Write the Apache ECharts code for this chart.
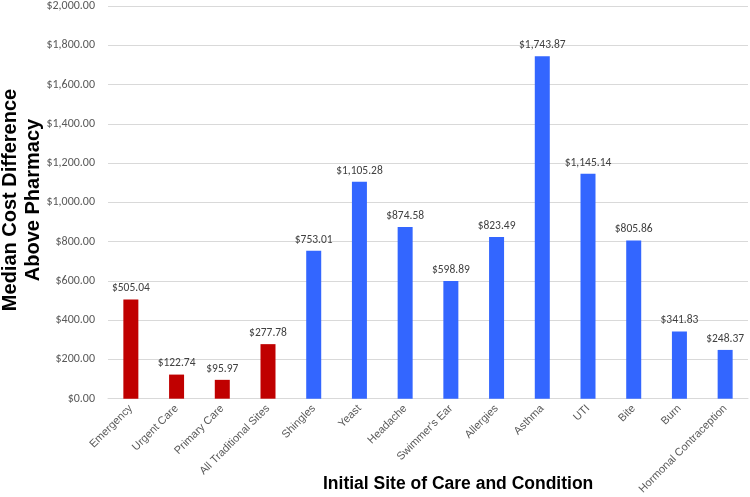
<!DOCTYPE html>
<html><head><meta charset="utf-8">
<script src="https://cdn.jsdelivr.net/npm/echarts@6/dist/echarts.min.js"></script>
<style>html,body{margin:0;padding:0;background:#fff}#c{width:750px;height:497px}</style>
</head><body><div id="c"></div>
<script>
const categories = ["Emergency","Urgent Care","Primary Care","All Traditional Sites","Shingles","Yeast","Headache","Swimmer's Ear","Allergies","Asthma","UTI","Bite","Burn","Hormonal Contraception"];
const values = [505.04,122.74,95.97,277.78,753.01,1105.28,874.58,598.89,823.49,1743.87,1145.14,805.86,341.83,248.37];
const groups = ["site","site","site","site","cond","cond","cond","cond","cond","cond","cond","cond","cond","cond"];
const colors = {site:"#C00000", cond:"#3366FF"};
function money(v){return "$"+v.toLocaleString("en-US",{minimumFractionDigits:2,maximumFractionDigits:2});}
const chart = echarts.init(document.getElementById('c'));
chart.setOption({
  animation:false,
  grid:{left:108,right:2,top:5,bottom:98},
  xAxis:{type:'category',data:categories,
    axisLine:{lineStyle:{color:'#d9d9d9'}},axisTick:{show:false},
    axisLabel:{rotate:45,interval:0,color:'#595959',fontSize:11,fontFamily:'Arial, Liberation Sans',margin:8}},
  yAxis:{type:'value',min:0,max:2000,interval:200,
    axisLine:{show:false},axisTick:{show:false},
    splitLine:{lineStyle:{color:'#d9d9d9'}},
    axisLabel:{formatter:v=>money(v),color:'#595959',fontSize:12,fontFamily:'Calibri, Carlito, Liberation Sans',margin:13}},
  graphic:[
    {type:'text',left:323,top:475,style:{text:'Initial Site of Care and Condition',font:'bold 17.5px Arial, Liberation Sans',fill:'#000'}},
    {type:'text',x:22,y:200,rotation:Math.PI/2,style:{text:'Median Cost Difference\nAbove Pharmacy',font:'bold 20px Arial, Liberation Sans',fill:'#000',align:'center',verticalAlign:'middle',lineHeight:23}}
  ],
  series:[{type:'bar',barWidth:15,
    data:values.map((v,i)=>({value:v,itemStyle:{color:colors[groups[i]]}})),
    label:{show:true,position:'top',distance:5,formatter:p=>money(p.value),color:'#404040',fontSize:11.5,fontFamily:'Calibri, Carlito, Liberation Sans'}}]
});
</script></body></html>
